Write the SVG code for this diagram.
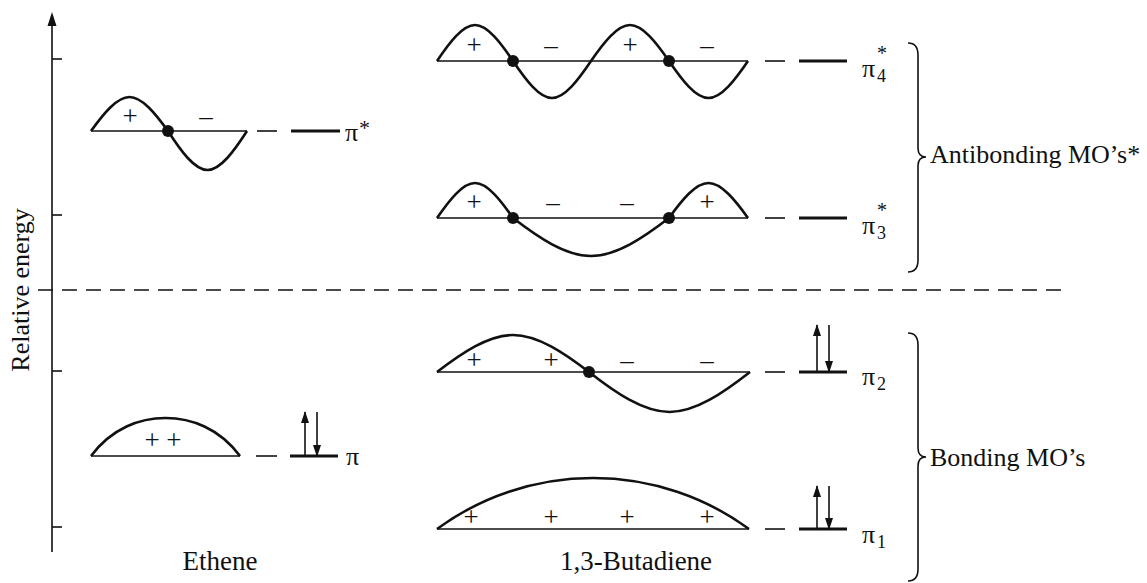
<svg xmlns="http://www.w3.org/2000/svg" width="1147" height="583" viewBox="0 0 1147 583">
<defs>
<style>
.base{stroke:#111;stroke-width:1.6;fill:none}
.curve{stroke:#111;stroke-width:2.6;fill:none;stroke-linejoin:round}
.lvl{stroke:#111;stroke-width:3;fill:none}
.dash{stroke:#111;stroke-width:1.6;fill:none}
.thin{stroke:#111;stroke-width:1.6;fill:none}
.node{fill:#111}
.t{font-family:"Liberation Serif","Times New Roman",serif;font-size:26px;fill:#111}
.s{font-family:"Liberation Serif","Times New Roman",serif;font-size:27px;fill:#111;text-anchor:middle}
.sm{font-family:"Liberation Serif","Times New Roman",serif;font-size:18px;fill:#111}
.st{font-family:"Liberation Serif","Times New Roman",serif;font-size:20px;fill:#111}
.arr{stroke:#111;stroke-width:1.6;fill:none;marker-end:url(#ah)}
</style>
<marker id="ah" viewBox="0 0 12 8" refX="11" refY="4" markerWidth="12" markerHeight="8" markerUnits="userSpaceOnUse" orient="auto">
<path d="M0,0 L12,4 L0,8 Z" fill="#111"/>
</marker>
</defs>
<rect width="1147" height="583" fill="#fff"/>

<g id="axis">
<line class="thin" x1="52" y1="552" x2="52" y2="22"/>
<path d="M52,12 L47.5,26 L56.5,26 Z" fill="#111"/>
<line class="thin" x1="52" y1="59" x2="62" y2="59"/>
<line class="thin" x1="52" y1="215" x2="62" y2="215"/>
<line class="thin" x1="52" y1="371" x2="62" y2="371"/>
<line class="thin" x1="52" y1="527" x2="62" y2="527"/>
<text class="t" transform="translate(29,290) rotate(-90)" text-anchor="middle">Relative energy</text>
</g>

<g id="separator">
<line x1="38" y1="290" x2="1065" y2="290" stroke="#111" stroke-width="1.6" stroke-dasharray="15 9"/>
</g>

<g id="ethene-pistar">
<line class="base" x1="91" y1="131" x2="247" y2="131"/>
<path class="curve" d="M91,131 C103.6,113.6 116.9,97 129.5,97 C142.1,97 155.4,113.6 168,131 C180.9,151 194.6,170 207.5,170 C220.4,170 234.1,151 247,131"/>
<circle class="node" cx="168" cy="131" r="6"/>
<text class="s" x="130" y="125">+</text>
<text class="s" x="206" y="125">–</text>
</g>

<g id="ethene-pi">
<line class="base" x1="91" y1="456" x2="240" y2="456"/>
<path class="curve" d="M91,456 C112,428 140,418 165.5,418 C191,418 219,428 240,456"/>
<text class="s" x="163" y="449">+ +</text>
</g>

<g id="ethene-levels">
<line class="dash" x1="257" y1="131" x2="277" y2="131"/>
<line class="lvl" x1="291" y1="131" x2="340" y2="131"/>
<text class="t" x="345" y="141">π</text>
<text class="st" x="359" y="135" style="font-size:22px">*</text>
<line class="dash" x1="256" y1="456" x2="277" y2="456"/>
<line class="lvl" x1="290" y1="456" x2="338" y2="456"/>
<line class="arr" x1="305" y1="456" x2="305" y2="412"/>
<line class="arr" x1="317" y1="412" x2="317" y2="456"/>
<text class="t" x="346" y="465">π</text>
</g>

<g id="butadiene-pi4">
<line class="base" x1="437" y1="61" x2="748" y2="61"/>
<path class="curve" d="M437,61 C449.4,42.6 462.6,25 475,25 C487.4,25 500.6,42.6 513,61 C525.7,79.9 539.3,98 552,98 C564.7,98 578.3,79.9 591,61 C603.7,42.6 617.3,25 630,25 C642.7,25 656.3,42.6 669,61 C681.9,79.9 695.6,98 708.5,98 C721.4,98 735.1,79.9 748,61"/>
<circle class="node" cx="513" cy="61" r="6"/>
<circle class="node" cx="669" cy="61" r="6"/>
<text class="s" x="474" y="54">+</text>
<text class="s" x="551" y="54">–</text>
<text class="s" x="630" y="54">+</text>
<text class="s" x="707" y="54">–</text>
<line class="dash" x1="765" y1="61" x2="785" y2="61"/>
<line class="lvl" x1="799" y1="61" x2="847" y2="61"/>
<text class="t" x="862" y="77">π</text>
<text class="st" x="877" y="60">*</text>
<text class="sm" x="877" y="82">4</text>
</g>

<g id="butadiene-pi3">
<line class="base" x1="437" y1="218" x2="748" y2="218"/>
<path class="curve" d="M437,218 C449.4,200.1 462.6,183 475,183 C487.4,183 500.6,200.1 513,218 C538.4,237.5 565.6,256 591,256 C616.4,256 643.6,237.5 669,218 C681.9,200.1 695.6,183 708.5,183 C721.4,183 735.1,200.1 748,218"/>
<circle class="node" cx="513" cy="218" r="6"/>
<circle class="node" cx="669" cy="218" r="6"/>
<text class="s" x="474" y="211">+</text>
<text class="s" x="553" y="211">–</text>
<text class="s" x="627" y="211">–</text>
<text class="s" x="707" y="211">+</text>
<line class="dash" x1="765" y1="218" x2="785" y2="218"/>
<line class="lvl" x1="799" y1="218" x2="847" y2="218"/>
<text class="t" x="862" y="234">π</text>
<text class="st" x="877" y="217">*</text>
<text class="sm" x="877" y="239">3</text>
</g>

<g id="butadiene-pi2">
<line class="base" x1="437" y1="372" x2="750" y2="372"/>
<path class="curve" d="M437,372 C461.8,353.1 488.2,335 513,335 C537.8,335 564.2,353.1 589,372 C615.2,392.5 643.3,412 669.5,412 C695.7,412 723.8,392.5 750,372"/>
<circle class="node" cx="589" cy="372" r="6"/>
<text class="s" x="474" y="369">+</text>
<text class="s" x="551" y="369">+</text>
<text class="s" x="627" y="369">–</text>
<text class="s" x="707" y="369">–</text>
<line class="dash" x1="765" y1="372" x2="785" y2="372"/>
<line class="lvl" x1="799" y1="372" x2="847" y2="372"/>
<line class="arr" x1="817" y1="372" x2="817" y2="325"/>
<line class="arr" x1="829" y1="325" x2="829" y2="372"/>
<text class="t" x="862" y="385">π<tspan class="sm" x="877" y="390">2</tspan></text>
</g>

<g id="butadiene-pi1">
<line class="base" x1="437" y1="529" x2="749" y2="529"/>
<path class="curve" d="M437,529 A264,264 0 0 1 749,529"/>
<text class="s" x="471" y="526">+</text>
<text class="s" x="551" y="526">+</text>
<text class="s" x="627" y="526">+</text>
<text class="s" x="707" y="526">+</text>
<line class="dash" x1="765" y1="529" x2="785" y2="529"/>
<line class="lvl" x1="799" y1="529" x2="847" y2="529"/>
<line class="arr" x1="817" y1="529" x2="817" y2="486"/>
<line class="arr" x1="829" y1="486" x2="829" y2="529"/>
<text class="t" x="862" y="543">π<tspan class="sm" x="877" y="548">1</tspan></text>
</g>

<g id="antibonding-brace">
<path class="thin" d="M908,43 Q918,43 918,55 L918,148 Q918,157 926,157 Q918,157 918,166 L918,260 Q918,272 908,272"/>
<text class="t" x="930" y="163">Antibonding MO’s*</text>
</g>

<g id="bonding-brace">
<path class="thin" d="M908,333 Q918,333 918,345 L918,448 Q918,457 926,457 Q918,457 918,466 L918,569 Q918,581 908,581"/>
<text class="t" x="930" y="466">Bonding MO’s</text>
</g>

<g id="labels">
<text class="s" x="220" y="570">Ethene</text>
<text class="s" x="636" y="570">1,3-Butadiene</text>
</g>
</svg>
